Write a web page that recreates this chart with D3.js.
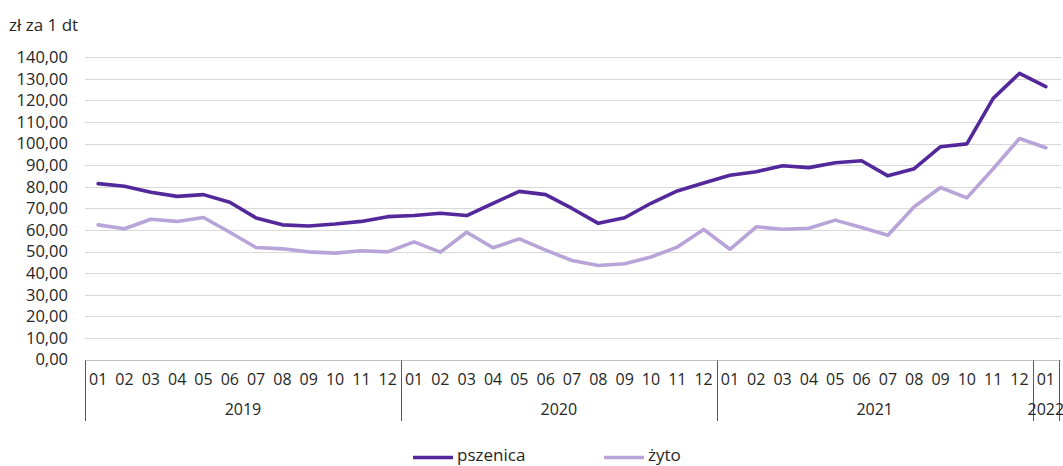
<!DOCTYPE html>
<html>
<head>
<meta charset="utf-8">
<script src="https://cdnjs.cloudflare.com/ajax/libs/d3/7.8.5/d3.min.js"></script>
<style>
  body { margin: 0; background: #fff; }
  svg text { font-family: "Open Sans", "Noto Sans", sans-serif; fill: #262626; }
</style>
</head>
<body>
<div id="vis"></div>
<script>
// months of each year, first point 2019-01, last 2022-01
var years = ['2019', '2020', '2021', '2022'];
var monthsPerYear = [12, 12, 12, 1];
var monthLabels = ['01', '02', '03', '04', '05', '06', '07', '08', '09', '10', '11', '12'];

// ceny skupu, zł za 1 dt
var pszenica = [81.5, 80.3, 77.5, 75.6, 76.4, 72.9, 65.6, 62.4, 61.9, 62.8, 64.0, 66.2,
  66.7, 67.8, 66.7, 72.4, 77.9, 76.4, 70.0, 63.1, 65.7, 72.4, 78.1, 81.8,
  85.4, 87.0, 89.8, 88.9, 91.2, 92.1, 85.1, 88.4, 98.6, 99.9, 121.0, 132.6, 126.4];
var zyto = [62.4, 60.6, 65.0, 64.0, 65.8, 59.0, 51.9, 51.3, 49.9, 49.3, 50.4, 49.9,
  54.5, 49.8, 59.0, 51.8, 55.9, 50.7, 45.9, 43.6, 44.4, 47.5, 52.1, 60.3,
  51.1, 61.5, 60.4, 60.8, 64.6, 61.2, 57.6, 70.8, 79.7, 74.9, 88.4, 102.4, 98.1];
var yTicks = d3.range(0, 141, 10);

var width = 1063, height = 466;
var margin = { top: 57, left: 85, right: 4, bottom: 106 };

var svg = d3.select('#vis').append('svg')
  .attr('width', width)
  .attr('height', height);

// build the category list
var cats = [];
years.forEach(function (y, yi) {
  for (var m = 0; m < monthsPerYear[yi]; m++) {
    cats.push({ id: y + '-' + monthLabels[m], month: monthLabels[m], year: y });
  }
});

var x = d3.scaleBand()
  .domain(cats.map(function (d) { return d.id; }))
  .range([margin.left, 1059]);

var y = d3.scaleLinear()
  .domain([0, 140])
  .range([359.6, 57.3]);

// gridlines
svg.append('g')
  .selectAll('line')
  .data(yTicks)
  .enter()
  .append('line')
  .attr('x1', margin.left)
  .attr('x2', 1061)
  .attr('y1', function (d) { return Math.round(y(d)) + 0.5; })
  .attr('y2', function (d) { return Math.round(y(d)) + 0.5; })
  .attr('stroke', function (d) { return d === 0 ? '#bfbfbf' : '#d9d9d9'; })
  .attr('stroke-width', 1);

// y labels
svg.append('g')
  .selectAll('text')
  .data(yTicks)
  .enter()
  .append('text')
  .attr('x', 68)
  .attr('y', function (d) { return y(d); })
  .attr('dy', '0.35em')
  .attr('text-anchor', 'end')
  .style('font-size', '16.5px')
  .text(function (d) { return d3.format('.2f')(d).replace('.', ','); });

svg.append('text')
  .attr('x', 9)
  .attr('y', 31)
  .style('font-size', '17px')
  .text('zł za 1 dt');

// x axis: month labels
var axisY = Math.round(y(0)) + 0.5;
svg.append('g')
  .selectAll('text')
  .data(cats)
  .enter()
  .append('text')
  .attr('x', function (d) { return x(d.id) + x.bandwidth() / 2; })
  .attr('y', 379)
  .attr('dy', '0.35em')
  .attr('text-anchor', 'middle')
  .style('font-size', '16px')
  .text(function (d) { return d.month; });

// year groups
var start = 0;
var groups = years.map(function (yr, i) {
  var g = { year: yr, first: cats[start].id, last: cats[start + monthsPerYear[i] - 1].id };
  start += monthsPerYear[i];
  return g;
});

var sepX = [x(cats[0].id)].concat(groups.map(function (g) { return x(g.last) + x.bandwidth(); }));
svg.append('g')
  .selectAll('line')
  .data(sepX)
  .enter()
  .append('line')
  .attr('x1', function (d) { return Math.round(d) + 0.5; })
  .attr('x2', function (d) { return Math.round(d) + 0.5; })
  .attr('y1', axisY)
  .attr('y2', 421)
  .attr('stroke', '#595959')
  .attr('stroke-width', 1);

svg.append('g')
  .selectAll('text')
  .data(groups)
  .enter()
  .append('text')
  .attr('x', function (d) { return (x(d.first) + x(d.last) + x.bandwidth()) / 2; })
  .attr('y', 409)
  .attr('dy', '0.35em')
  .attr('text-anchor', 'middle')
  .style('font-size', '16px')
  .text(function (d) { return d.year; });

// lines
var series = [
  { name: 'pszenica', values: pszenica, color: '#53289b', lx: 413 },
  { name: 'żyto', values: zyto, color: '#b8a4d9', lx: 604 }
];

var line = d3.line()
  .x(function (d, i) { return x(cats[i].id) + x.bandwidth() / 2; })
  .y(function (d) { return y(d); });

series.forEach(function (s) {
  svg.append('path')
    .datum(s.values)
    .attr('d', line)
    .attr('fill', 'none')
    .attr('stroke', s.color)
    .attr('stroke-width', 3.6)
    .attr('stroke-linejoin', 'round')
    .attr('stroke-linecap', 'round');

  svg.append('line')
    .attr('x1', s.lx)
    .attr('x2', s.lx + 40)
    .attr('y1', 457.5)
    .attr('y2', 457.5)
    .attr('stroke', s.color)
    .attr('stroke-width', 3.5);

  svg.append('text')
    .attr('x', s.lx + 44)
    .attr('y', 461)
    .style('font-size', '17px')
    .text(s.name);
});
</script>
</body>
</html>
